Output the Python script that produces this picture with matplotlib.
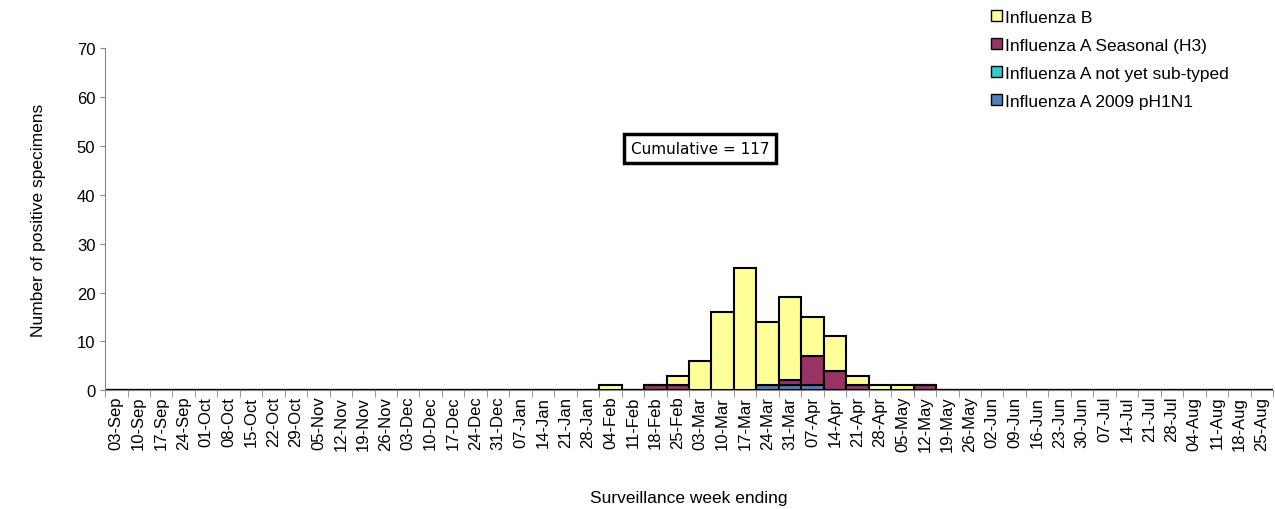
import matplotlib
matplotlib.use("Agg")
import matplotlib.pyplot as plt
import numpy as np
from matplotlib.patches import Patch

plt.rcParams['font.family'] = ['Liberation Sans', 'DejaVu Sans']

weeks = ["03-Sep","10-Sep","17-Sep","24-Sep","01-Oct","08-Oct","15-Oct","22-Oct","29-Oct","05-Nov","12-Nov","19-Nov","26-Nov",
         "03-Dec","10-Dec","17-Dec","24-Dec","31-Dec","07-Jan","14-Jan","21-Jan","28-Jan","04-Feb","11-Feb","18-Feb","25-Feb",
         "03-Mar","10-Mar","17-Mar","24-Mar","31-Mar","07-Apr","14-Apr","21-Apr","28-Apr","05-May","12-May","19-May","26-May",
         "02-Jun","09-Jun","16-Jun","23-Jun","30-Jun","07-Jul","14-Jul","21-Jul","28-Jul","04-Aug","11-Aug","18-Aug","25-Aug"]
n = len(weeks)
pdm = np.zeros(n); notsub = np.zeros(n); h3 = np.zeros(n); fluB = np.zeros(n)
pdm[29:32] = [1, 1, 1]
h3[24:37] = [1, 1, 0, 0, 0, 0, 1, 6, 4, 1, 0, 0, 1]
fluB[22:37] = [1, 0, 0, 2, 6, 16, 25, 13, 17, 8, 7, 2, 1, 1, 0]

fig = plt.figure(figsize=(12.75, 5.1), dpi=100)
ax = fig.add_axes([0.0824, 0.233, 0.916, 0.67])
x = np.arange(n)
kw = dict(width=1.0, edgecolor="black", linewidth=1.5)
b = np.zeros(n)
for vals, col in [(pdm, "#4F81BD"), (notsub, "#33CCCC"), (h3, "#993366"), (fluB, "#FFFF99")]:
    ax.bar(x, vals, bottom=b, color=col, **kw)
    b = b + vals
ax.set_xlim(-0.5, n - 0.5)
ax.set_ylim(0, 70)
ax.set_yticks(range(0, 71, 10))
ax.set_xticks(x)
ax.set_xticklabels(weeks, rotation=90, fontsize=12)
ax.tick_params(axis="x", which="major", length=0, pad=4)
ax.set_xticks(np.arange(n + 1) - 0.5, minor=True)
ax.tick_params(axis="x", which="minor", length=5, color="#888888")
ax.tick_params(axis="y", labelsize=12, colors="#888888", labelcolor="black")
for s in ["top", "right"]:
    ax.spines[s].set_visible(False)
ax.spines["left"].set_color("#888888")
ax.spines["bottom"].set_color("#888888")
ax.set_ylabel("Number of positive specimens", fontsize=12.5, labelpad=22)
ax.set_xlabel("Surveillance week ending", fontsize=12.5, labelpad=28)
ax.text(26, 49.5, "Cumulative = 117", fontsize=11, ha="center", va="center",
        family=["DejaVu Sans"],
        bbox=dict(boxstyle="square,pad=0.45", fc="white", ec="black", lw=2.5))
handles = [Patch(fc="#FFFF99", ec="black", label="Influenza B"),
           Patch(fc="#993366", ec="black", label="Influenza A Seasonal (H3)"),
           Patch(fc="#33CCCC", ec="black", label="Influenza A not yet sub-typed"),
           Patch(fc="#4F81BD", ec="black", label="Influenza A 2009 pH1N1")]
fig.legend(handles=handles, loc="upper left", bbox_to_anchor=(0.765, 1.01), frameon=False,
           fontsize=12.5, handlelength=0.65, handleheight=0.65, handletextpad=0.15, labelspacing=0.75)
fig.savefig("out.png")
